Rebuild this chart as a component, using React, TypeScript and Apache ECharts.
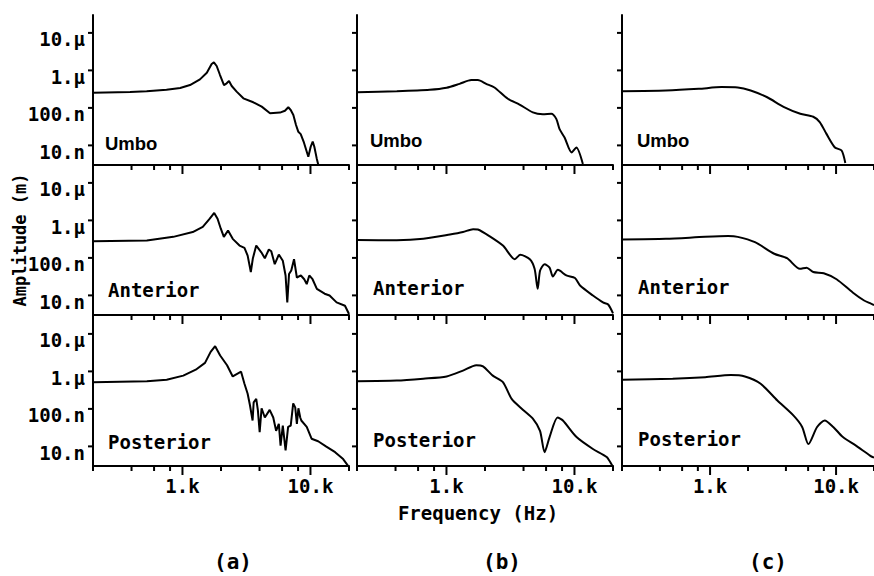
import React, { useEffect, useRef } from "react";
import * as echarts from "echarts";

// Axis ranges (Hz, nm)
const X_MIN = 200;
const X_MAX = 20000;
const Y_MIN = 3;
const Y_MAX = 30000;

const X_MINOR_TICKS = [200, 400, 600, 800, 2000, 4000, 6000, 8000, 20000];
const X_MAJOR_TICKS = [1000, 10000];
const Y_TICKS = [10, 100, 1000, 10000];

const X_LABELS: Record<string, string> = { "3": "1.k", "4": "10.k" };
const Y_LABELS: Record<string, string> = { "1": "10.n", "2": "100.n", "3": "1.µ", "4": "10.µ" };

const ROW_NAMES = ["Umbo", "Anterior", "Posterior"];
const COLUMN_NAMES = ["(a)", "(b)", "(c)"];

// (a) Umbo
const umboA_f = [200, 390, 525, 750, 960, 1145, 1370, 1550, 1690, 1760, 1850, 1965, 2110, 2215, 2310, 2425, 2650, 2990, 3575, 4160, 4830, 5780, 6320, 6710, 7010, 7350, 7710, 8040, 8390, 8900, 9620, 10040, 10410, 10720, 11190, 11520];
const umboA_nm = [254, 265, 277, 306, 339, 407, 577, 869, 1480, 1640, 1309, 753, 407, 452, 521, 383, 271, 180, 141, 108, 72, 75, 84, 104, 88, 65, 35, 23, 20, 11.8, 5.0, 9.2, 12.6, 9.2, 4.5, 3.0];
// (b) Umbo
const umboB_f = [200, 409, 740, 1003, 1266, 1562, 1760, 2044, 2370, 3016, 3720, 4730, 5660, 6590, 7210, 7650, 8370, 9500, 10340, 11630];
const umboB_nm = [262, 279, 304, 344, 438, 555, 555, 438, 350, 175, 123, 76, 68, 70, 51, 27, 16.2, 6.5, 8.8, 3.2];
// (c) Umbo
const umboC_f = [200, 446, 814, 1232, 1658, 2100, 2840, 3830, 5200, 6590, 7420, 8370, 9790, 11060, 11840];
const umboC_nm = [279, 291, 322, 358, 350, 291, 192, 107, 70, 58, 42, 20.6, 8.8, 7.3, 3.4];

// (a) Anterior
const antA_f = [200, 527, 848, 1203, 1441, 1634, 1770, 1880, 1990, 2105, 2270, 2470, 2790, 3050, 3230, 3420, 3550, 3770, 4130, 4400, 4730, 4940, 5260, 5660, 6080, 6390, 6590, 6800, 7080, 7440, 7830, 8420, 8940, 9350, 9790, 10380, 11220, 12900, 14100, 16000, 18600, 20000];
const antA_nm = [279, 291, 364, 488, 674, 1110, 1580, 1110, 610, 364, 540, 322, 213, 185, 115, 42, 98, 213, 141, 98, 167, 150, 68, 123, 84, 34, 6.5, 37, 46, 92, 30, 34, 27, 20, 34, 27, 15, 11.1, 9.9, 6.5, 5.3, 3.2];
// (b) Anterior
const antB_f = [200, 409, 660, 1064, 1346, 1615, 1760, 2165, 2760, 3420, 3770, 4480, 4880, 5160, 5390, 5840, 6390, 6780, 7420, 8640, 10090, 11060, 13940, 16690, 18340, 20000];
const antB_nm = [300, 296, 322, 418, 488, 584, 570, 381, 213, 92, 121, 92, 51, 15, 46, 68, 55, 32, 48, 34, 29, 18.3, 9.9, 6.5, 5.7, 3.3];
// (c) Anterior
const antC_f = [200, 446, 915, 1388, 1658, 2270, 3230, 4080, 5160, 5840, 6590, 7980, 10090, 13550, 16690, 18600, 20000];
const antC_nm = [310, 322, 364, 381, 364, 262, 129, 98, 51, 55, 42, 39, 27, 12, 7.3, 6.2, 5.5];

// (a) Posterior
const postA_f = [200, 527, 753, 1015, 1270, 1500, 1660, 1800, 1970, 2230, 2470, 2870, 3050, 3230, 3370, 3530, 3600, 3770, 3880, 4010, 4150, 4400, 4800, 5120, 5390, 5660, 5840, 6080, 6390, 6690, 7010, 7330, 7600, 7830, 8050, 8320, 8480, 9350, 10200, 11480, 13300, 15580, 18000, 20000];
const postA_nm = [516, 550, 600, 770, 1110, 1690, 3320, 4700, 2660, 1460, 734, 980, 470, 253, 123, 49, 150, 185, 94, 24, 104, 59, 94, 59, 26, 40, 10.5, 36, 7.8, 33, 36, 140, 110, 40, 104, 59, 49, 33, 16, 13.7, 9.9, 7.0, 4.6, 2.8];
// (b) Posterior
const postB_f = [200, 409, 660, 1003, 1346, 1710, 1930, 2300, 2760, 3230, 3970, 4730, 5380, 5840, 6390, 7380, 8120, 10380, 13940, 17850, 20000];
const postB_nm = [550, 570, 640, 734, 1050, 1460, 1360, 770, 516, 185, 94, 55, 26, 7.0, 17.7, 59, 49, 17.7, 8.5, 5.2, 2.8];
// (c) Posterior
const postC_f = [200, 505, 915, 1460, 1890, 2520, 3420, 4600, 5380, 6030, 7070, 8120, 9500, 11330, 14380, 18600, 20000];
const postC_nm = [600, 640, 700, 800, 734, 470, 167, 66, 33, 11.5, 33, 49, 33, 17.7, 10.5, 5.7, 5.0];

const PANELS = [
  { row: 0, col: 0, f: umboA_f, a: umboA_nm },
  { row: 0, col: 1, f: umboB_f, a: umboB_nm },
  { row: 0, col: 2, f: umboC_f, a: umboC_nm },
  { row: 1, col: 0, f: antA_f, a: antA_nm },
  { row: 1, col: 1, f: antB_f, a: antB_nm },
  { row: 1, col: 2, f: antC_f, a: antC_nm },
  { row: 2, col: 0, f: postA_f, a: postA_nm },
  { row: 2, col: 1, f: postB_f, a: postB_nm },
  { row: 2, col: 2, f: postC_f, a: postC_nm },
];

// layout
const COL_LEFT = [93, 357, 622];
const ROW_TOP = [15, 165, 316];
const GRID_W = 256;
const GRID_H = 150;
const LABEL_POS = [
  [[105, 143], [370, 140], [637, 140]],
  [[108, 290], [373, 288], [638, 287]],
  [[108, 442], [373, 440], [638, 439]],
];

const MONO = "'DejaVu Sans Mono', monospace";

function buildOption() {
  const grid: any[] = [];
  const xAxis: any[] = [];
  const yAxis: any[] = [];
  const series: any[] = [];
  const graphic: any[] = [];

  PANELS.forEach((p, i) => {
    grid.push({ left: COL_LEFT[p.col], top: ROW_TOP[p.row], width: GRID_W, height: GRID_H, containLabel: false });
    xAxis.push({
      type: "log",
      logBase: 10,
      gridIndex: i,
      min: X_MIN,
      max: X_MAX,
      axisLine: { show: true, onZero: false, lineStyle: { color: "#000", width: 2 } },
      axisTick: { show: false },
      minorTick: { show: false },
      splitLine: { show: false },
      axisLabel:
        p.row === 2
          ? {
              show: true,
              color: "#000",
              fontFamily: MONO,
              fontWeight: "bold",
              fontSize: 19,
              margin: 10,
              formatter: (v: number) => X_LABELS[String(Math.round(Math.log10(v)))] ?? "",
            }
          : { show: false },
    });
    yAxis.push({
      type: "log",
      logBase: 10,
      gridIndex: i,
      min: Y_MIN,
      max: Y_MAX,
      axisLine: { show: true, onZero: false, lineStyle: { color: "#000", width: 2 } },
      axisTick: { show: false },
      minorTick: { show: false },
      splitLine: { show: false },
      axisLabel:
        p.col === 0
          ? {
              show: true,
              color: "#000",
              fontFamily: MONO,
              fontWeight: "bold",
              fontSize: 19,
              margin: 8,
              verticalAlign: "top",
              lineHeight: 13,
              formatter: (v: number) => {
                const lg = Math.log10(v);
                if (Math.abs(lg - Math.round(lg)) > 1e-6) return "";
                return Y_LABELS[String(Math.round(lg))] ?? "";
              },
            }
          : { show: false },
    });

    series.push({
      type: "line",
      xAxisIndex: i,
      yAxisIndex: i,
      data: p.f.map((f, k) => [f, p.a[k]]),
      showSymbol: false,
      symbol: "none",
      smooth: p.col === 0 ? false : 0.25,
      lineStyle: { color: "#000", width: 2 },
      clip: true,
      silent: true,
      z: 3,
    });

    // x ticks (drawn through the x scale)
    series.push({
      type: "custom",
      xAxisIndex: i,
      yAxisIndex: i,
      silent: true,
      clip: false,
      z: 4,
      data: [
        ...X_MINOR_TICKS.map((v) => [v, Y_MIN, 0]),
        ...X_MAJOR_TICKS.map((v) => [v, Y_MIN, 1]),
      ],
      encode: { x: 0, y: 1 },
      renderItem: (params: any, api: any) => {
        const pt = api.coord([api.value(0), api.value(1)]);
        const len = api.value(2) ? 9 : 5;
        return {
          type: "line",
          shape: { x1: pt[0], y1: pt[1], x2: pt[0], y2: pt[1] + len },
          style: { stroke: "#000", lineWidth: 2 },
        };
      },
    });

    // y ticks
    series.push({
      type: "custom",
      xAxisIndex: i,
      yAxisIndex: i,
      silent: true,
      clip: false,
      z: 4,
      data: Y_TICKS.map((v) => [X_MIN, v]),
      encode: { x: 0, y: 1 },
      renderItem: (params: any, api: any) => {
        const pt = api.coord([api.value(0), api.value(1)]);
        return {
          type: "line",
          shape: { x1: pt[0] - 5, y1: pt[1], x2: pt[0], y2: pt[1] },
          style: { stroke: "#000", lineWidth: 2 },
        };
      },
    });

    const pos = LABEL_POS[p.row][p.col];
    graphic.push({
      type: "text",
      x: pos[0],
      y: pos[1],
      silent: true,
      style: {
        text: ROW_NAMES[p.row],
        fill: "#000",
        fontFamily: p.row === 0 ? "'Liberation Sans', Arial, sans-serif" : MONO,
        fontWeight: "bold",
        fontSize: p.row === 0 ? 18.5 : 19,
        align: "left",
        verticalAlign: "middle",
      },
    });
  });

  graphic.push({
    type: "text",
    x: 20,
    y: 240,
    rotation: Math.PI / 2,
    silent: true,
    style: {
      text: "Amplitude (m)",
      fill: "#000",
      fontFamily: MONO,
      fontWeight: "bold",
      fontSize: 17,
      align: "center",
      verticalAlign: "middle",
    },
  });
  graphic.push({
    type: "text",
    x: 478,
    y: 513,
    silent: true,
    style: {
      text: "Frequency (Hz)",
      fill: "#000",
      fontFamily: MONO,
      fontWeight: "bold",
      fontSize: 19,
      align: "center",
      verticalAlign: "middle",
    },
  });
  const capX = [233, 502, 768];
  COLUMN_NAMES.forEach((t, k) => {
    graphic.push({
      type: "text",
      x: capX[k],
      y: 562,
      silent: true,
      style: {
        text: t,
        fill: "#000",
        fontFamily: MONO,
        fontWeight: "bold",
        fontSize: 21,
        align: "center",
        verticalAlign: "middle",
      },
    });
  });

  return {
    animation: false,
    backgroundColor: "#fff",
    grid,
    xAxis,
    yAxis,
    series,
    graphic,
  };
}

export default function App() {
  const ref = useRef<HTMLDivElement>(null);
  useEffect(() => {
    if (!ref.current) return;
    const chart = echarts.init(ref.current, undefined, { renderer: "svg" });
    chart.setOption(buildOption() as any);
    return () => chart.dispose();
  }, []);
  return (
    <div
      ref={ref}
      style={{ position: "fixed", left: 0, top: 0, width: "874px", height: "576px", background: "#fff" }}
    />
  );
}
